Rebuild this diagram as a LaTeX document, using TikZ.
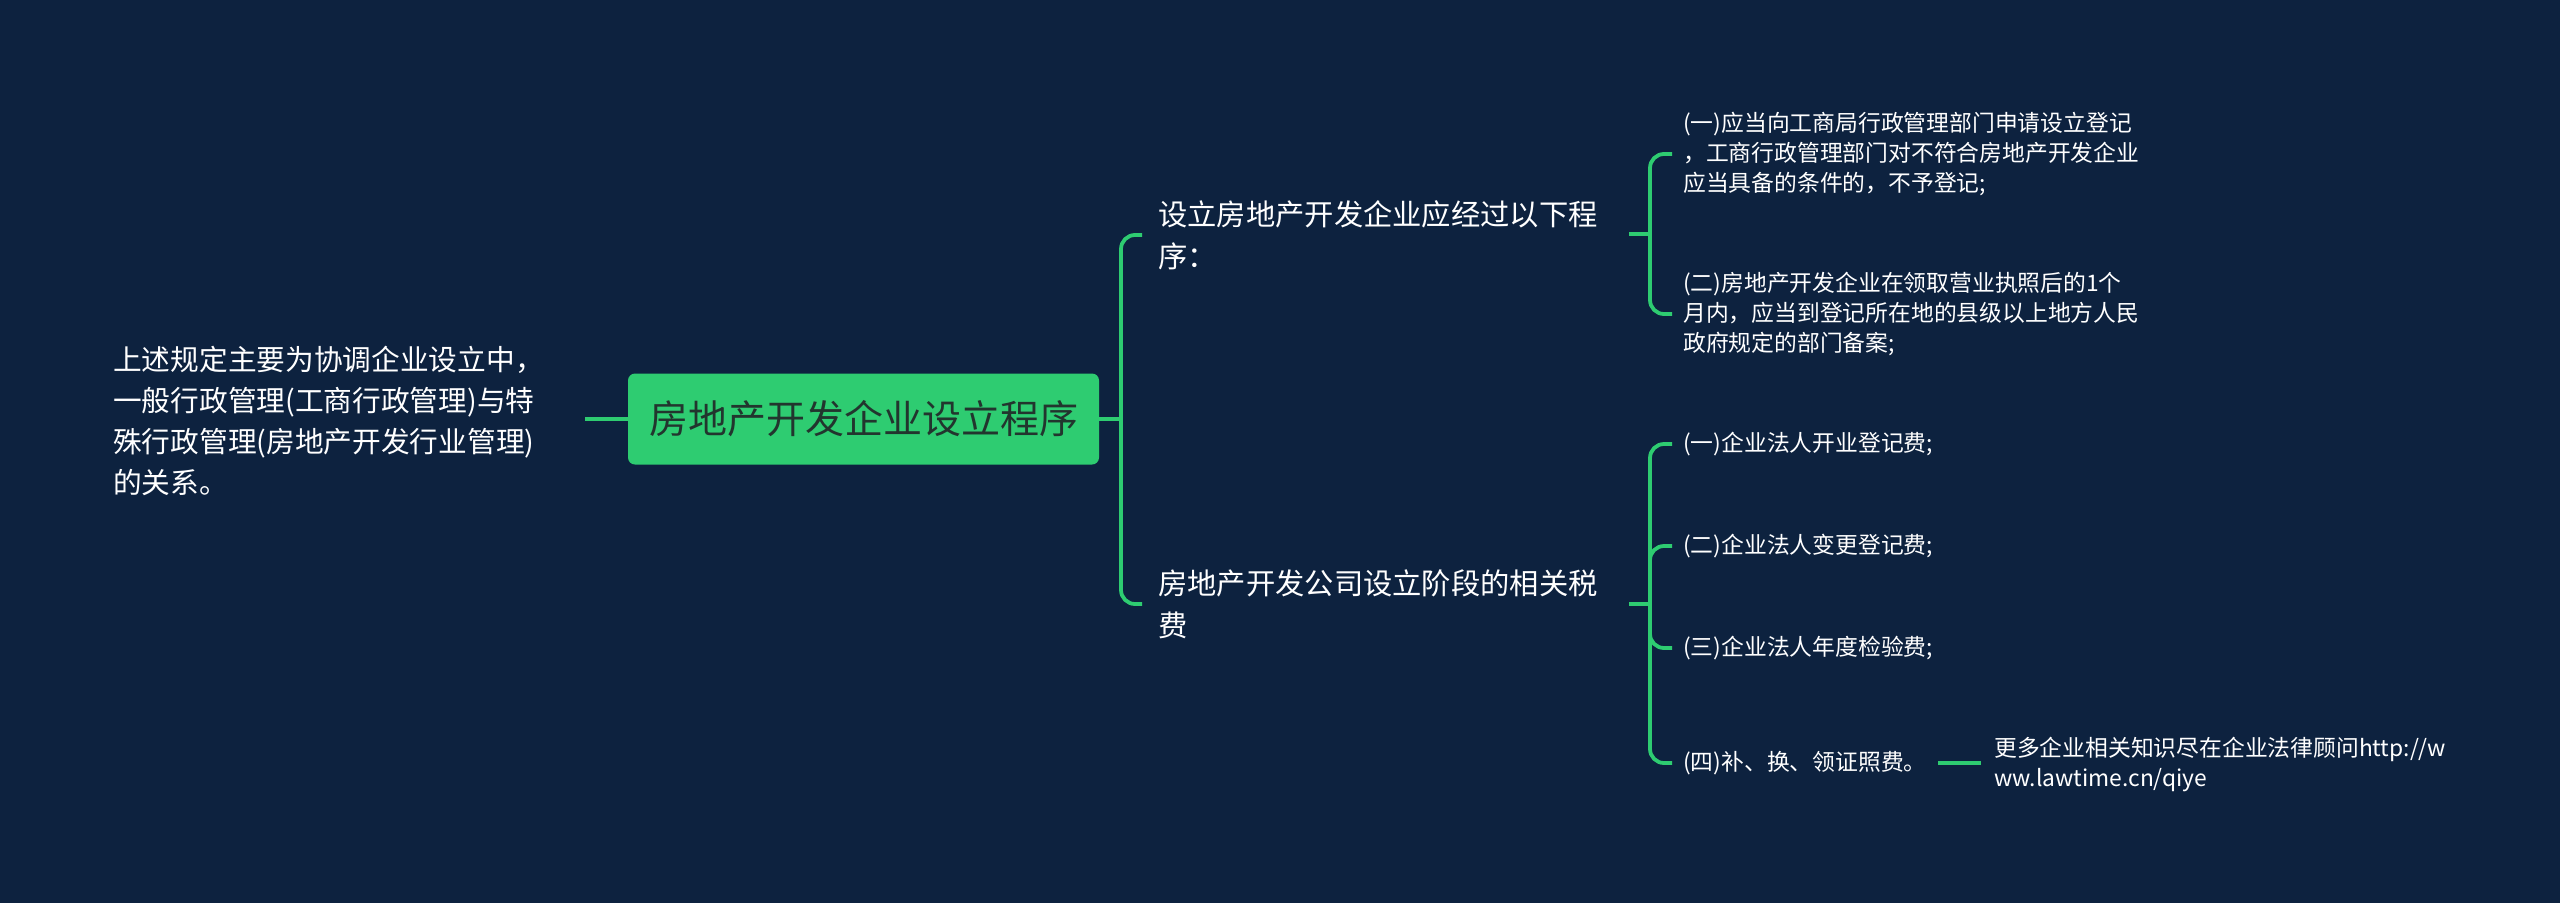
\documentclass[tikz,border=0pt]{standalone}
\usepackage{fontspec}
\setmainfont{Noto Sans CJK SC}
\definecolor{bgc}{HTML}{0D223F}
\definecolor{lineg}{HTML}{2ECC71}
\definecolor{rootfill}{HTML}{2ECC71}
\definecolor{roottext}{HTML}{22352E}
\begin{document}
\begin{tikzpicture}[x=1pt,y=-1pt,
  conn/.style={draw=lineg, line width=3.8pt, rounded corners=14pt},
  txt/.style={anchor=west, inner sep=0pt, align=left, text=white},
  lone/.style={txt, font=\fontsize{29.3}{42}\selectfont},
  leaf/.style={txt, font=\fontsize{22.8}{30}\selectfont},
  root/.style={draw=none, fill=rootfill, rounded corners=7pt, minimum width=471pt, minimum height=91pt, inner sep=0pt, text=roottext, font=\fontsize{39}{46}\selectfont}]
\fill[bgc] (0,0) rectangle (2560,903);
\useasboundingbox (0,0) rectangle (2560,903);

% nodes
\node[txt, font=\fontsize{28.7}{41}\selectfont] (L) at (113,421) {上述规定主要为协调企业设立中，\\一般行政管理(工商行政管理)与特\\殊行政管理(房地产开发行业管理)\\的关系。};
\node[root] (R) at (863.5,419) {房地产开发企业设立程序};
\node[lone] (A) at (1158,235) {设立房地产开发企业应经过以下程\\序：};
\node[lone] (B) at (1158,604) {房地产开发公司设立阶段的相关税\\费};
\node[leaf] (A1) at (1683,154) {(一)应当向工商局行政管理部门申请设立登记\\，工商行政管理部门对不符合房地产开发企业\\应当具备的条件的，不予登记;};
\node[leaf] (A2) at (1683,314) {(二)房地产开发企业在领取营业执照后的1个\\月内，应当到登记所在地的县级以上地方人民\\政府规定的部门备案;};
\node[leaf] (B1) at (1683,444) {(一)企业法人开业登记费;};
\node[leaf] (B2) at (1683,546) {(二)企业法人变更登记费;};
\node[leaf] (B3) at (1683,648) {(三)企业法人年度检验费;};
\node[leaf] (B4) at (1683,763) {(四)补、换、领证照费。};
\node[leaf] (C) at (1994,764) {更多企业相关知识尽在企业法律顾问http://w\\ww.lawtime.cn/qiye};

% coordinates
\coordinate (Lo) at (585,419);
\coordinate (J0) at (1121,419);
\coordinate (Ao) at (1629,234);
\coordinate (J1) at (1650,234);
\coordinate (Bo) at (1629,604);
\coordinate (J2) at (1650,604);
\coordinate (B4o) at (1938,763);
\coordinate (Ci) at (1981,763);

% connectors
\draw[conn] (Lo) -- (R.west);
\draw[conn] (R.east) -- (J0);
\draw[conn] (J0) |- ([xshift=-16pt]A.west);
\draw[conn] (J0) |- ([xshift=-16pt]B.west);
\draw[conn] (Ao) -- (J1);
\draw[conn] (J1) |- ([xshift=-11pt]A1.west);
\draw[conn] (J1) |- ([xshift=-11pt]A2.west);
\draw[conn] (Bo) -- (J2);
\draw[conn] (J2) |- ([xshift=-11pt]B1.west);
\draw[conn] (J2) |- ([xshift=-11pt]B2.west);
\draw[conn] (J2) |- ([xshift=-11pt]B3.west);
\draw[conn] (J2) |- ([xshift=-11pt]B4.west);
\draw[conn] (B4o) -- (Ci);
\end{tikzpicture}
\end{document}
